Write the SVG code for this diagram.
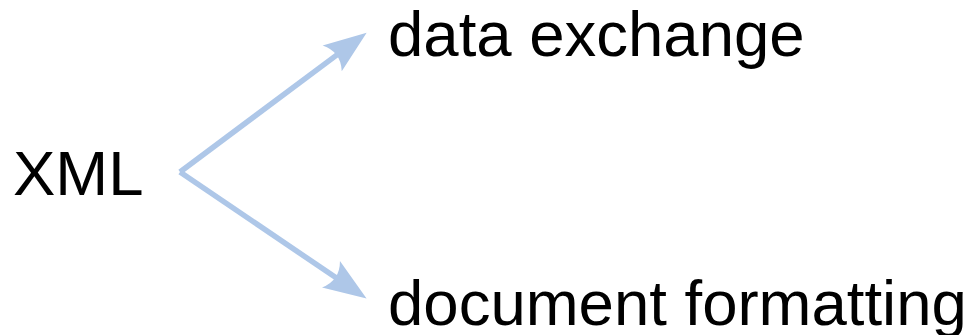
<svg xmlns="http://www.w3.org/2000/svg" width="970" height="335" viewBox="0 0 970 335">
  <style>
    .lbl { font-family: "Liberation Sans", Arial, sans-serif; fill: #000000; font-size: 63.5px; }
    .edge { fill: none; stroke: #aec7e8; stroke-width: 5.5; }
  </style>
  <defs>
    <marker id="arrow" markerUnits="userSpaceOnUse" markerWidth="60" markerHeight="40" refX="0" refY="0" orient="auto" overflow="visible" viewBox="-20 -20 60 40">
      <path d="M35,0 L-8,-16 Q3,0 -8,16 Z" fill="#aec7e8"/>
    </marker>
  </defs>
  <rect width="970" height="335" fill="#ffffff"/>
  <g id="connectors">
    <path class="edge" d="M180,172 L338.6,53.6" marker-end="url(#arrow)"/>
    <path class="edge" d="M180,172 L337.6,278.8" marker-end="url(#arrow)"/>
  </g>
  <g id="node-xml">
    <text class="lbl" x="13" y="195">XML</text>
  </g>
  <g id="node-data-exchange">
    <text class="lbl" x="388" y="56">data exchange</text>
  </g>
  <g id="node-document-formatting">
    <text class="lbl" x="388" y="325">document formatting</text>
  </g>
</svg>
